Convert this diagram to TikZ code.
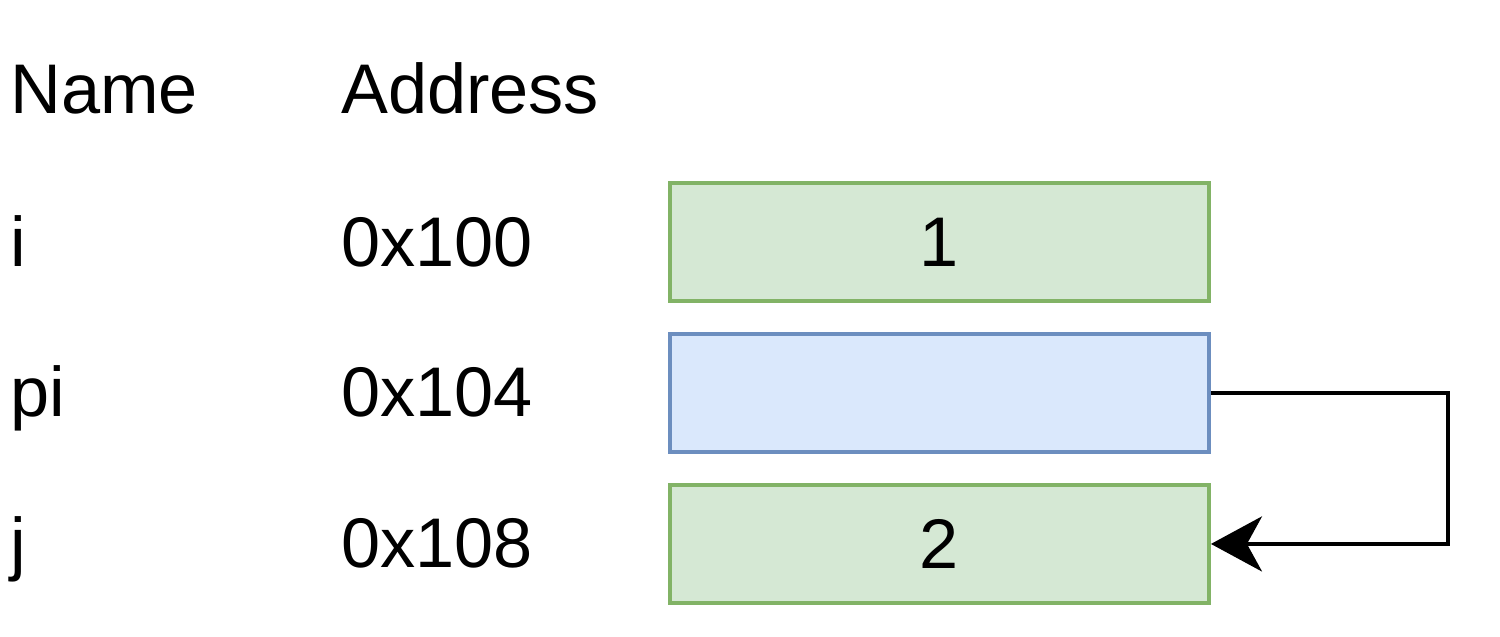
\documentclass[tikz,border=0pt]{standalone}
\usepackage{fontspec}
\setmainfont{Liberation Sans}
\usepackage{xcolor}
\usetikzlibrary{positioning, arrows.meta}

\definecolor{greenfill}{HTML}{D5E8D4}
\definecolor{greenline}{HTML}{82B366}
\definecolor{bluefill}{HTML}{DAE8FC}
\definecolor{blueline}{HTML}{6C8EBF}

\begin{document}
\begin{tikzpicture}[x=0.02cm, y=-0.02cm, node distance=0.58cm, >={Stealth[length=1.02cm, width=1.1cm, inset=0.3cm]},
    font=\fontsize{40}{48}\selectfont,
    label/.style={anchor=base west, inner sep=0pt},
    cell/.style={draw, line width=0.08cm, minimum width=10.78cm, minimum height=2.36cm, inner sep=0pt},
    intcell/.style={cell, draw=greenline, fill=greenfill},
    ptrcell/.style={cell, draw=blueline, fill=bluefill}]
                \useasboundingbox (0,0) rectangle (1500,636);

                % header
                \node[label] (name) at (10,113) {Name};
                \node[label] (addr) at (341,113) {Address};

                % variable names and addresses
                \node[label] (ni) at (10,266) {i};
                \node[label] (ai) at (341,266) {0x100};
                \node[label] (npi) at (10,416) {pi};
                \node[label] (api) at (341,416) {0x104};
                \node[label] (nj) at (10,567) {j};
                \node[label] (aj) at (341,567) {0x108};

                % memory cells
                \node[intcell] (i) at (939.5,242) {1};
                \node[ptrcell] (pi) [below=of i] {};
                \node[intcell] (j) [below=of pi] {2};

                % pi points to j
                \draw[->, line width=0.08cm] (pi.east) -- ++(237,0) |- (j.east);
            \end{tikzpicture}
\end{document}
